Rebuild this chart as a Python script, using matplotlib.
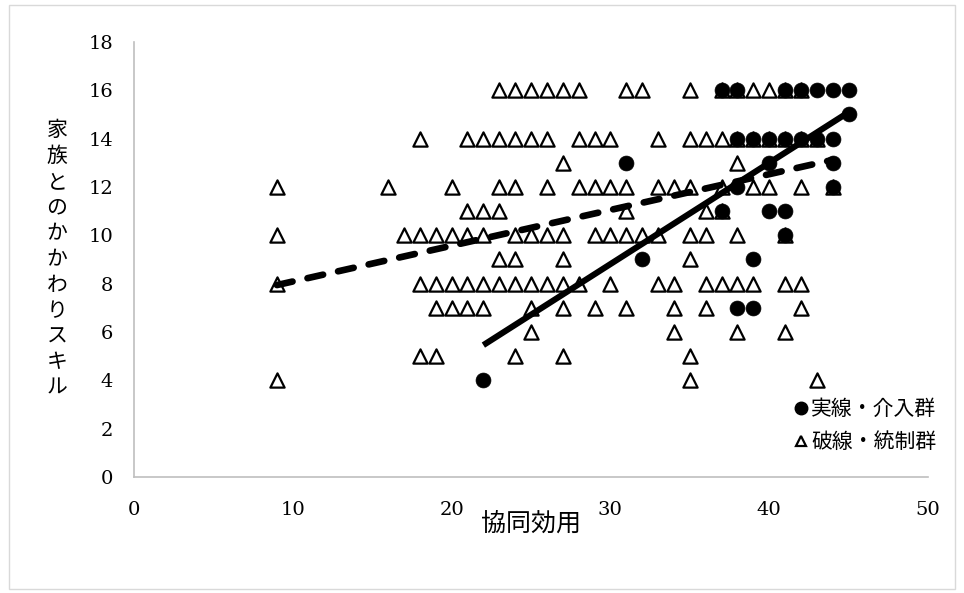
import numpy as np
import matplotlib
matplotlib.use("Agg")
import matplotlib.pyplot as plt
from matplotlib.lines import Line2D
from matplotlib.patches import Rectangle

# ---------------- data ----------------
# control group (triangles): x values per y level
control_rows = {
    16: [23, 24, 25, 26, 27, 28, 31, 32, 35, 37, 38, 39, 40, 41, 42],
    14: [18, 21, 22, 23, 24, 25, 26, 28, 29, 30, 33, 35, 36, 37, 38, 39, 40, 41, 42, 43],
    13: [27, 38],
    12: [9, 16, 20, 23, 24, 26, 28, 29, 30, 31, 33, 34, 35, 37, 39, 40, 42, 44],
    11: [21, 22, 23, 31, 36, 37],
    10: [9, 17, 18, 19, 20, 21, 22, 24, 25, 26, 27, 29, 30, 31, 32, 33, 35, 36, 38, 41],
    9: [23, 24, 27, 35],
    8: [9, 18, 19, 20, 21, 22, 23, 24, 25, 26, 27, 28, 30, 33, 34, 36, 37, 38, 39, 41, 42],
    7: [19, 20, 21, 22, 25, 27, 29, 31, 34, 36, 42],
    6: [25, 34, 38, 41],
    5: [18, 19, 24, 27, 35],
    4: [9, 35, 43],
}
# intervention group (circles)
interv_rows = {
    16: [37, 38, 41, 42, 43, 44, 45],
    15: [45],
    14: [38, 39, 40, 41, 42, 43, 44],
    13: [31, 40, 44],
    12: [38, 44],
    11: [37, 40, 41],
    10: [41],
    9: [32, 39],
    7: [38, 39],
    4: [22],
}

# linear trendlines: (slope, intercept)
control_trend = (0.148, 6.61)
interv_trend = (0.419, -3.76)

ctrl_x = [x for y, xs in control_rows.items() for x in xs]
ctrl_y = [y for y, xs in control_rows.items() for x in xs]
int_x = [x for y, xs in interv_rows.items() for x in xs]
int_y = [y for y, xs in interv_rows.items() for x in xs]

x_ticks = [0, 10, 20, 30, 40, 50]
y_ticks = [0, 2, 4, 6, 8, 10, 12, 14, 16, 18]
x_label = "協同効用"
y_label = "家族とのかかわりスキル"
legend_labels = ["実線・介入群", "破線・統制群"]

# ---------------- figure ----------------
jp = ["Noto Sans CJK JP", "DejaVu Sans"]
num_font = "DejaVu Serif"

fig = plt.figure(figsize=(9.64, 5.93), dpi=100)
fig.patches.append(Rectangle((0.009, 0.006), 0.982, 0.985, transform=fig.transFigure,
                             fill=False, edgecolor="#d9d9d9", linewidth=1.0))
ax = fig.add_axes([0.139, 0.1956, 0.8237, 0.7336])


def trend(xs, coef):
    k, b = coef
    xx = np.array([min(xs), max(xs)], dtype=float)
    return xx, k * xx + b


cx, cy = trend(ctrl_x, control_trend)
ix, iy = trend(int_x, interv_trend)

ax.scatter(ctrl_x, ctrl_y, marker="^", s=105, facecolor="white", edgecolor="black",
           linewidth=1.6, zorder=3)
ax.scatter(int_x, int_y, marker="o", s=115, facecolor="black", edgecolor="black",
           linewidth=0.5, zorder=4)
ax.plot(cx, cy, color="black", linewidth=4.8, dashes=(2.4, 2.3), dash_capstyle="round", zorder=5)
ax.plot(ix, iy, color="black", linewidth=4.4, solid_capstyle="butt", zorder=5)

ax.set_xlim(0, 50)
ax.set_ylim(0, 18)
ax.set_xticks(x_ticks)
ax.set_yticks(y_ticks)
ax.tick_params(length=0, labelsize=14)
ax.tick_params(axis="x", pad=17)
ax.tick_params(axis="y", pad=15)
for lab in ax.get_xticklabels() + ax.get_yticklabels():
    lab.set_fontfamily(num_font)
for s in ["top", "right"]:
    ax.spines[s].set_visible(False)
for s in ["left", "bottom"]:
    ax.spines[s].set_color("#bfbfbf")
    ax.spines[s].set_linewidth(1.2)

ax.set_xlabel(x_label, fontfamily=jp, fontsize=18, labelpad=-6)
fig.text(0.059, 0.563, "\n".join(y_label), fontfamily=jp, fontsize=15,
         ha="center", va="center", linespacing=1.22)

handles = [Line2D([], [], marker="o", color="black", linestyle="none", markersize=9),
           Line2D([], [], marker="^", markerfacecolor="white", markeredgecolor="black",
                  markeredgewidth=1.6, linestyle="none", markersize=7)]
leg = ax.legend(handles, legend_labels, loc="lower right", bbox_to_anchor=(1.021, 0.035),
                frameon=False, prop={"family": jp, "size": 15}, handlelength=0.6,
                handletextpad=0.2, labelspacing=0.55, borderaxespad=0)

fig.savefig("out.png", dpi=100)
